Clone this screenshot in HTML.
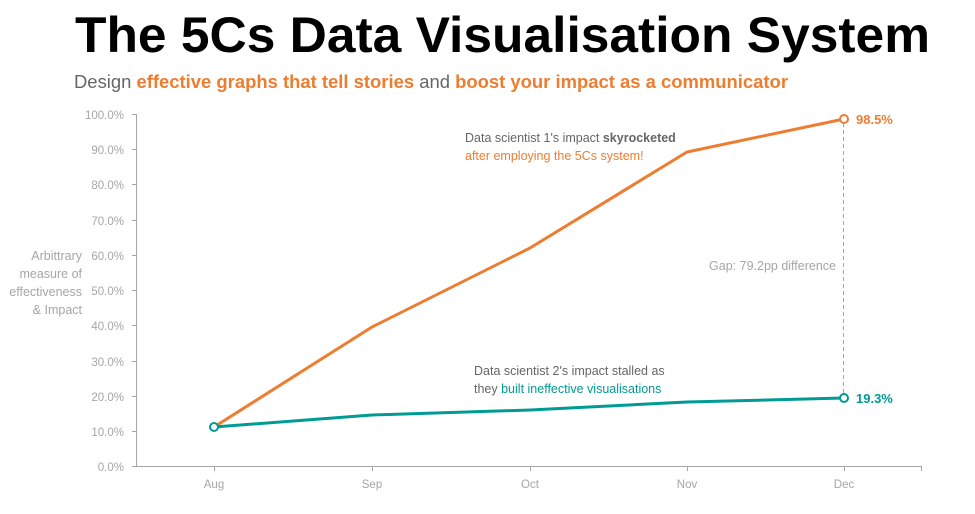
<!DOCTYPE html>
<html><head><meta charset="utf-8"><style>
html,body{margin:0;padding:0;background:#fff;}
svg{display:block;font-family:"Liberation Sans","DejaVu Sans",sans-serif;}
</style></head><body>
<svg width="975" height="514" viewBox="0 0 975 514" xmlns="http://www.w3.org/2000/svg">
<text x="75" y="52" font-size="50" font-weight="bold" fill="#000" textLength="855" lengthAdjust="spacingAndGlyphs">The 5Cs Data Visualisation System</text>
<text x="74" y="88" font-size="18" fill="#666" textLength="714" lengthAdjust="spacingAndGlyphs">Design <tspan fill="#ED7D31" font-weight="bold">effective graphs that tell stories</tspan> and <tspan fill="#ED7D31" font-weight="bold">boost your impact as a communicator</tspan></text>
<g stroke="#a6a6a6" stroke-width="1" fill="none">
<line x1="136.5" y1="114" x2="136.5" y2="466"/>
<line x1="136" y1="466.5" x2="922" y2="466.5"/>
<line x1="132" y1="114.5" x2="136" y2="114.5"/><line x1="132" y1="149.5" x2="136" y2="149.5"/><line x1="132" y1="184.5" x2="136" y2="184.5"/><line x1="132" y1="220.5" x2="136" y2="220.5"/><line x1="132" y1="255.5" x2="136" y2="255.5"/><line x1="132" y1="290.5" x2="136" y2="290.5"/><line x1="132" y1="325.5" x2="136" y2="325.5"/><line x1="132" y1="361.5" x2="136" y2="361.5"/><line x1="132" y1="396.5" x2="136" y2="396.5"/><line x1="132" y1="431.5" x2="136" y2="431.5"/><line x1="132" y1="466.5" x2="136" y2="466.5"/>
<line x1="214.5" y1="466" x2="214.5" y2="471"/><line x1="372.5" y1="466" x2="372.5" y2="471"/><line x1="530.5" y1="466" x2="530.5" y2="471"/><line x1="687.5" y1="466" x2="687.5" y2="471"/><line x1="844.5" y1="466" x2="844.5" y2="471"/><line x1="921.5" y1="466" x2="921.5" y2="471"/>
</g>
<g font-size="11.5" fill="#a6a6a6" text-anchor="end">
<text x="124" y="119">100.0%</text><text x="124" y="154">90.0%</text><text x="124" y="189">80.0%</text><text x="124" y="225">70.0%</text><text x="124" y="260">60.0%</text><text x="124" y="295">50.0%</text><text x="124" y="330">40.0%</text><text x="124" y="366">30.0%</text><text x="124" y="401">20.0%</text><text x="124" y="436">10.0%</text><text x="124" y="471">0.0%</text>
<text x="82" y="260" font-size="12.5">Arbittrary</text><text x="82" y="278" font-size="12.5">measure of</text><text x="82" y="296" font-size="12.5">effectiveness</text><text x="82" y="314" font-size="12.5">&amp; Impact</text>
</g>
<g font-size="11.5" fill="#a6a6a6" text-anchor="middle">
<text x="214" y="488">Aug</text><text x="372" y="488">Sep</text><text x="530" y="488">Oct</text><text x="687" y="488">Nov</text><text x="844" y="488">Dec</text>
</g>
<line x1="843.5" y1="123" x2="843.5" y2="394" stroke="#a6a6a6" stroke-dasharray="4,3"/>
<text x="836" y="270" font-size="12.5" fill="#a6a6a6" text-anchor="end">Gap: 79.2pp difference</text>
<polyline points="214,427 372,327 530,248 687,152 844,119" fill="none" stroke="#ED7D31" stroke-width="3" stroke-linejoin="round"/>
<polyline points="214,427 372,415 530,410 687,402 844,398" fill="none" stroke="#009B95" stroke-width="3" stroke-linejoin="round"/>
<circle cx="844" cy="119" r="4" fill="#fff" stroke="#ED7D31" stroke-width="2"/>
<circle cx="844" cy="398" r="4" fill="#fff" stroke="#009B95" stroke-width="2"/>
<circle cx="214" cy="427" r="4" fill="#fff" stroke="#009B95" stroke-width="2"/>
<text x="856" y="124" font-size="13" font-weight="bold" fill="#ED7D31">98.5%</text>
<text x="856" y="403" font-size="13" font-weight="bold" fill="#009B95">19.3%</text>
<text x="465" y="142" font-size="12.5" fill="#666">Data scientist 1's impact <tspan font-weight="bold">skyrocketed</tspan></text>
<text x="465" y="160" font-size="12.5" fill="#ED7D31">after employing the 5Cs system!</text>
<text x="474" y="375" font-size="12.5" fill="#666">Data scientist 2's impact stalled as</text>
<text x="474" y="393" font-size="12.5" fill="#666">they <tspan fill="#009B95">built ineffective visualisations</tspan></text>
</svg>
</body></html>
